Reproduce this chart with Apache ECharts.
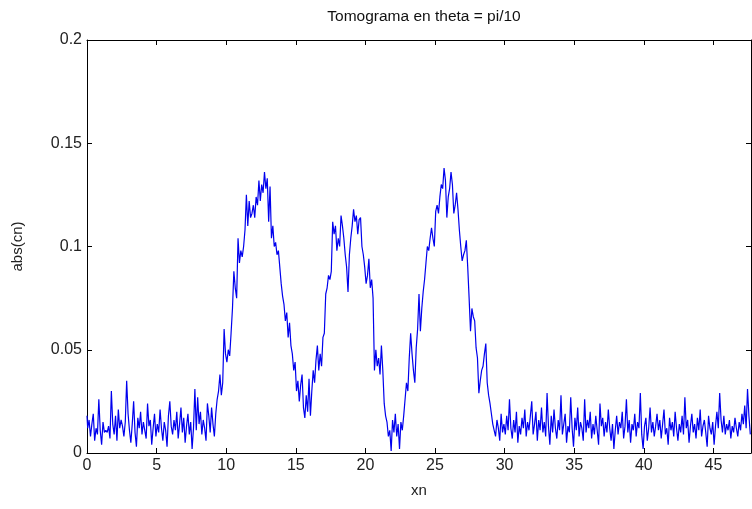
<!DOCTYPE html>
<html>
<head>
<meta charset="utf-8">
<script src="https://cdn.jsdelivr.net/npm/echarts@6/dist/echarts.min.js"></script>
<style>html,body{margin:0;padding:0;background:#fff}#c{width:752px;height:509px}</style>
</head>
<body>
<div id="c"></div>
<script>
// Sample grid of xn
var xnStart = 0;
var xnStep = 0.1;
var xTicks = [0, 5, 10, 15, 20, 25, 30, 35, 40, 45];
var yTicks = [0, 0.05, 0.1, 0.15, 0.2];

// abs(cn) values, xn = 0.0 .. 9.4
var absLeft = [
0.018,0.012,0.016,0.008,0.014,0.019,0.006,0.012,0.009,0.026,
0.011,0.004,0.015,0.010,0.011,0.010,0.013,0.007,0.030,0.014,
0.009,0.018,0.006,0.021,0.012,0.016,0.013,0.008,0.015,0.035,
0.019,0.011,0.005,0.014,0.025,0.010,0.003,0.017,0.012,0.020,
0.009,0.015,0.011,0.007,0.024,0.013,0.016,0.004,0.012,0.019,
0.008,0.014,0.010,0.021,0.012,0.006,0.015,0.011,0.003,0.018,
0.025,0.013,0.009,0.016,0.011,0.020,0.007,0.014,0.022,0.010,
0.017,0.005,0.013,0.019,0.009,0.015,0.002,0.012,0.031,0.011,
0.027,0.014,0.020,0.009,0.016,0.012,0.006,0.024,0.018,0.010,
0.022,0.014,0.008,0.019,0.026
];
// xn = 9.5 .. 29.3 (three peaks)
var absPeaks = [
0.030,0.038,0.028,0.034,0.060,0.048,0.044,0.050,0.047,0.058,
0.070,0.088,0.080,0.075,0.104,0.092,0.098,0.095,0.100,0.108,
0.125,0.110,0.122,0.114,0.116,0.120,0.114,0.124,0.120,0.132,
0.122,0.130,0.126,0.136,0.128,0.133,0.112,0.129,0.104,0.110,
0.100,0.102,0.096,0.098,0.090,0.082,0.076,0.072,0.064,0.068,
0.056,0.063,0.052,0.048,0.040,0.044,0.030,0.035,0.025,0.033,
0.038,0.022,0.017,0.028,0.020,0.036,0.018,0.030,0.040,0.034,
0.045,0.052,0.040,0.048,0.042,0.056,0.058,0.077,0.080,0.086,
0.084,0.088,0.112,0.106,0.110,0.098,0.104,0.100,0.115,0.110,
0.104,0.096,0.090,0.078,0.096,0.104,0.110,0.118,0.112,0.115,
0.106,0.113,0.114,0.100,0.096,0.090,0.082,0.086,0.094,0.080,
0.084,0.075,0.040,0.050,0.042,0.046,0.038,0.052,0.040,0.024,
0.018,0.015,0.008,0.011,0.001,0.016,0.010,0.019,0.008,0.014,
0.002,0.015,0.011,0.018,0.026,0.034,0.030,0.046,0.058,0.048,
0.040,0.034,0.051,0.060,0.077,0.059,0.070,0.078,0.084,0.092,
0.100,0.098,0.104,0.109,0.104,0.100,0.117,0.120,0.116,0.124,
0.130,0.128,0.138,0.132,0.114,0.124,0.128,0.136,0.130,0.116,
0.120,0.126,0.118,0.108,0.100,0.093,0.096,0.098,0.103,0.090,
0.075,0.059,0.070,0.066,0.064,0.051,0.046,0.029,0.035,0.040,
0.042,0.048,0.053,0.034,0.028,0.024,0.019,0.014,0.011
];
// xn = 29.4 .. 47.7
var absRight = [
0.008,0.016,0.012,0.006,0.019,0.010,0.014,0.009,0.018,0.011,
0.026,0.012,0.007,0.016,0.010,0.020,0.005,0.013,0.009,0.017,
0.012,0.021,0.008,0.015,0.011,0.018,0.025,0.009,0.014,0.020,
0.006,0.016,0.011,0.022,0.010,0.015,0.008,0.029,0.013,0.004,
0.018,0.010,0.021,0.012,0.007,0.016,0.011,0.028,0.009,0.014,
0.019,0.005,0.013,0.010,0.027,0.012,0.003,0.017,0.011,0.022,
0.008,0.015,0.012,0.006,0.026,0.010,0.016,0.012,0.020,0.007,
0.014,0.009,0.018,0.011,0.004,0.024,0.013,0.017,0.008,0.015,
0.010,0.021,0.012,0.006,0.014,0.002,0.011,0.018,0.009,0.015,
0.012,0.020,0.007,0.013,0.026,0.010,0.016,0.005,0.014,0.011,
0.019,0.008,0.015,0.012,0.029,0.009,0.002,0.013,0.017,0.006,
0.012,0.022,0.010,0.015,0.008,0.013,0.019,0.011,0.016,0.007,
0.014,0.021,0.009,0.012,0.004,0.017,0.011,0.015,0.008,0.020,
0.012,0.006,0.014,0.010,0.018,0.009,0.027,0.012,0.016,0.005,
0.013,0.019,0.010,0.014,0.007,0.017,0.011,0.021,0.008,0.013,
0.016,0.010,0.003,0.018,0.012,0.009,0.015,0.004,0.013,0.020,
0.012,0.029,0.016,0.010,0.018,0.009,0.014,0.011,0.016,0.007,
0.013,0.010,0.017,0.012,0.008,0.015,0.011,0.019,0.014,0.023,
0.012,0.031,0.018,0.009
];

var absCn = absLeft.concat(absPeaks, absRight);
var seriesData = absCn.map(function (v, i) {
  return [+(xnStart + i * xnStep).toFixed(2), v];
});
var xMax = 47.7;

var font = '"Liberation Sans", Arial, sans-serif';
var axisCol = '#000';
var txtCol = '#222';

function boxAxis(extra) {
  var base = {
    axisLine: {show: true, onZero: false, lineStyle: {color: axisCol, width: 1}},
    axisTick: {show: true, inside: true, length: 5, lineStyle: {color: axisCol}},
    splitLine: {show: false}
  };
  for (var k in extra) base[k] = extra[k];
  return base;
}

var chart = echarts.init(document.getElementById('c'), null, {renderer: 'canvas'});
chart.setOption({
  animation: false,
  backgroundColor: '#fff',
  title: {
    text: 'Tomograma en theta = pi/10',
    left: 419, top: 4, textAlign: 'center',
    textStyle: {fontFamily: font, fontSize: 15.5, fontWeight: 'normal', color: '#111'}
  },
  grid: {left: 87, right: 1, top: 40, bottom: 56, containLabel: false},
  xAxis: [
    boxAxis({
      type: 'value', min: 0, max: xMax, interval: 5, position: 'bottom',
      name: 'xn', nameLocation: 'middle', nameGap: 30,
      nameTextStyle: {fontFamily: font, fontSize: 15, color: txtCol},
      axisLabel: {fontFamily: font, fontSize: 16, color: txtCol, margin: 5, showMaxLabel: false,
        formatter: function (v) { return xTicks.indexOf(v) >= 0 ? String(v) : ''; }}
    }),
    boxAxis({
      type: 'value', min: 0, max: xMax, interval: 5, position: 'top',
      axisLabel: {show: false}
    })
  ],
  yAxis: [
    boxAxis({
      type: 'value', min: 0, max: 0.2, interval: 0.05, position: 'left',
      name: 'abs(cn)', nameLocation: 'middle', nameGap: 62, nameRotate: 90,
      nameTextStyle: {fontFamily: font, fontSize: 15, color: txtCol},
      axisLabel: {fontFamily: font, fontSize: 16, color: txtCol, margin: 5,
        formatter: function (v) {
          for (var k = 0; k < yTicks.length; k++) { if (Math.abs(v - yTicks[k]) < 1e-9) return String(yTicks[k]); }
          return '';
        }}
    }),
    boxAxis({
      type: 'value', min: 0, max: 0.2, interval: 0.05, position: 'right',
      axisLabel: {show: false}
    })
  ],
  series: [{
    type: 'line', xAxisIndex: 0, yAxisIndex: 0,
    data: seriesData, showSymbol: false, symbol: 'none',
    step: 'middle',
    lineStyle: {color: '#0000ee', width: 1.2},
    itemStyle: {color: '#0000ee'},
    clip: true
  }]
});
</script>
</body>
</html>
